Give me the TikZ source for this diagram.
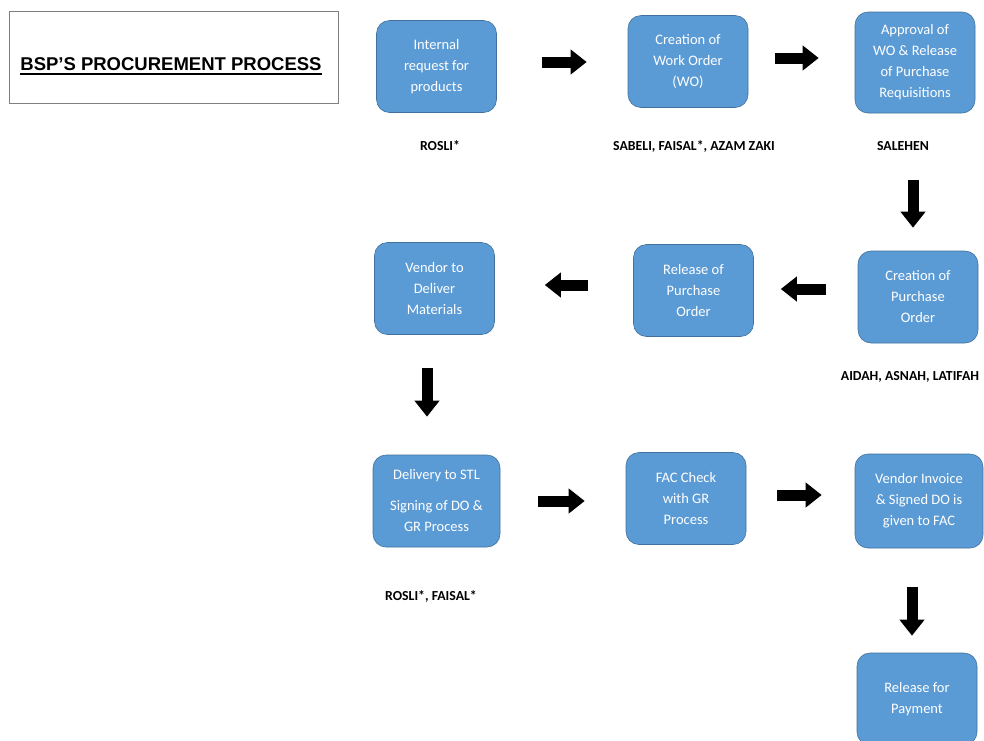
\documentclass[tikz,border=0pt]{standalone}
\usepackage{fontspec}
\setmainfont{Carlito}
\newfontfamily\titlefont{Liberation Sans}
\usetikzlibrary{arrows.meta}

\definecolor{stepblue}{HTML}{5B9BD5}
\definecolor{stepedge}{HTML}{41719C}
\definecolor{framegray}{HTML}{808080}

\begin{document}
\begin{tikzpicture}[x=1pt, y=-1pt,
      proc/.style={rectangle, rounded corners=13pt, fill=stepblue, draw=stepedge,
        line width=0.6pt, minimum width=120pt, minimum height=92pt, align=center,
        text=white, inner sep=2pt, font=\fontsize{14.5}{21}\selectfont},
      who/.style={font=\bfseries\fontsize{13.8}{16}\selectfont},
      blk/.style={line width=11pt, -{Triangle[length=16pt,width=24pt]}}]
    \useasboundingbox (0,0) rectangle (984,740);
    % title
    \node[draw=framegray, line width=0.6pt, minimum width=329pt, minimum height=92pt] (title) at (173.5,57) {};
    \node[inner sep=0pt, font=\titlefont\bfseries\fontsize{18.5}{20}\selectfont] (titletxt) at (171,64) {BSP’S PROCUREMENT PROCESS};
    \draw[line width=2pt] ([yshift=-3.5pt]titletxt.base west) -- ([yshift=-3.5pt]titletxt.base east);

    % first row
    \node[proc] (req)  at (436.5,66.5) {Internal\\request for\\products};
    \node[proc] (wo)   at (688,61.5)   {Creation of\\Work Order\\(WO)};
    \node[proc, minimum height=101pt] (appr) at (915,62.5) {Approval of\\WO \& Release\\of Purchase\\Requisitions};
    \node[who] (w1) at (440,146) {ROSLI*};
    \node[who] (w2) at (694,146) {SABELI, FAISAL*, AZAM ZAKI};
    \node[who] (w3) at (903,146) {SALEHEN};

    % second row
    \node[proc] (cpo)  at (918,297)    {Creation of\\Purchase\\Order};
    \node[proc] (rpo)  at (693.5,290.5) {Release of\\Purchase\\Order};
    \node[proc] (vend) at (434.5,288.5) {Vendor to\\Deliver\\Materials};
    \node[who] (w4) at (910,377) {AIDAH, ASNAH, LATIFAH};

    % third row
    \node[proc, minimum width=127pt] (dstl) at (436.5,501) {Delivery to STL\\[10pt]Signing of DO \&\\GR Process};
    \node[proc] (fac)  at (686,498.5)  {FAC Check\\with GR\\Process};
    \node[proc, minimum width=128pt, minimum height=94pt] (inv) at (919,501) {Vendor Invoice\\\& Signed DO is\\given to FAC};
    \node[who] (w5) at (431,596) {ROSLI*, FAISAL*};
    \node[proc] (pay)  at (917,699)    {Release for\\Payment};

    % arrows
    \draw[blk, shorten <=45pt, shorten >=41pt] ([yshift=4.5pt]req.east) -- ([yshift=4.5pt]req.east -| wo.west);
    \draw[blk, shorten <=27pt, shorten >=36pt] ([yshift=3.5pt]wo.east) -- ([yshift=3.5pt]wo.east -| appr.west);
    \draw[blk, shorten <=67pt, shorten >=23pt] ([xshift=-2pt]appr.south) -- ([xshift=-2pt]appr.south |- cpo.north);
    \draw[blk, shorten <=32pt, shorten >=27pt] ([yshift=8pt]cpo.west) -- ([yshift=8pt]cpo.west -| rpo.east);
    \draw[blk, shorten <=45pt, shorten >=50pt] ([yshift=5.5pt]rpo.west) -- ([yshift=5.5pt]rpo.west -| vend.east);
    \draw[blk, shorten <=33pt, shorten >=38pt] ([xshift=-7.5pt]vend.south) -- ([xshift=-7.5pt]vend.south |- dstl.north);
    \draw[blk, shorten <=38pt, shorten >=41pt] (dstl.east) -- (dstl.east -| fac.west);
    \draw[blk, shorten <=31pt, shorten >=33pt] ([yshift=3.5pt]fac.east) -- ([yshift=3.5pt]fac.east -| inv.west);
    \draw[blk, shorten <=39pt, shorten >=17pt] ([xshift=-7pt]inv.south) -- ([xshift=-7pt]inv.south |- pay.north);
  \end{tikzpicture}
\end{document}
